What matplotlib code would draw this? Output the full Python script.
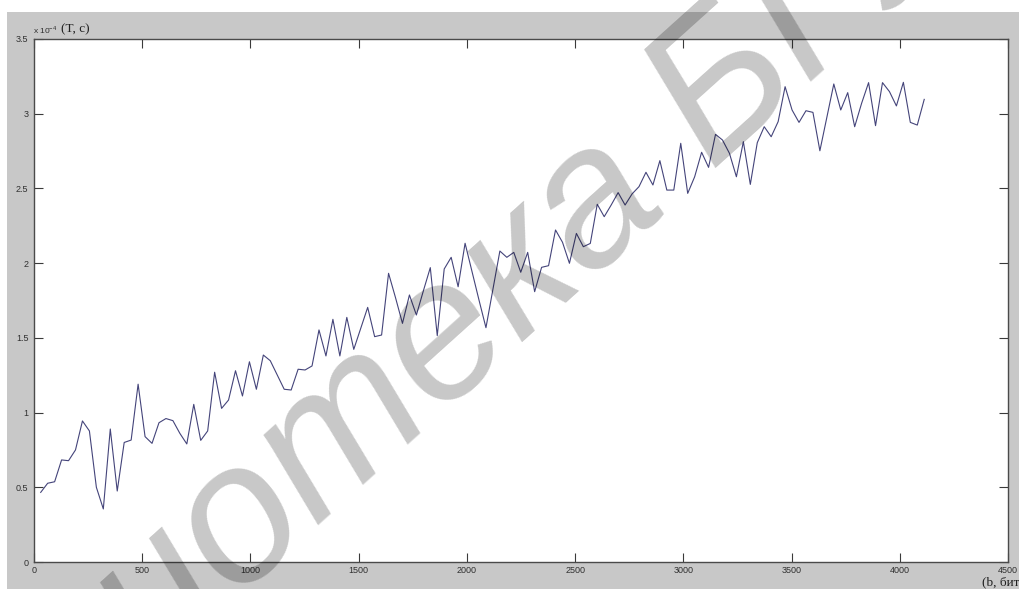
import numpy as np
import matplotlib
matplotlib.use("Agg")
import matplotlib.pyplot as plt
from matplotlib.patches import Rectangle

plt.rcParams["font.family"] = ["Liberation Sans", "DejaVu Sans"]
plt.rcParams["mathtext.fontset"] = "custom"
plt.rcParams["mathtext.rm"] = "Liberation Sans"

# block size, bits (128 measurements)
b_bits = np.linspace(31, 4113, 128)

# processing time, units of 1e-4 s
t_e4 = [
    0.466, 0.527, 0.537, 0.683, 0.678, 0.750, 0.944, 0.877, 0.500, 0.355,
    0.890, 0.475, 0.800, 0.816, 1.190, 0.839, 0.794, 0.932, 0.960, 0.946,
    0.861, 0.790, 1.055, 0.814, 0.877, 1.270, 1.028, 1.084, 1.280, 1.111,
    1.340, 1.156, 1.385, 1.347, 1.251, 1.156, 1.151, 1.290, 1.285, 1.312,
    1.553, 1.379, 1.624, 1.379, 1.637, 1.423, 1.564, 1.704, 1.508, 1.519,
    1.932, 1.769, 1.597, 1.787, 1.653, 1.814, 1.970, 1.515, 1.961, 2.039,
    1.842, 2.133, 1.943, 1.753, 1.568, 1.825, 2.081, 2.039, 2.072, 1.939,
    2.072, 1.809, 1.972, 1.983, 2.222, 2.140, 1.999, 2.199, 2.110, 2.132,
    2.394, 2.311, 2.389, 2.472, 2.389, 2.463, 2.512, 2.608, 2.523, 2.686,
    2.489, 2.489, 2.802, 2.467, 2.578, 2.742, 2.641, 2.862, 2.824, 2.735,
    2.578, 2.813, 2.527, 2.806, 2.913, 2.846, 2.947, 3.181, 3.025, 2.942,
    3.020, 3.009, 2.752, 2.976, 3.199, 3.025, 3.141, 2.913, 3.070, 3.208,
    2.920, 3.208, 3.148, 3.052, 3.210, 2.942, 2.924, 3.096,
]

x_ticks = [0, 500, 1000, 1500, 2000, 2500, 3000, 3500, 4000, 4500]
x_tick_labels = ["0", "500", "1000", "1500", "2000", "2500", "3000", "3500", "4000", "4500"]
y_ticks = [0, 0.5, 1, 1.5, 2, 2.5, 3, 3.5]
y_tick_labels = ["0", "0.5", "1", "1.5", "2", "2.5", "3", "3.5"]

W, H = 1019, 589
fig = plt.figure(figsize=(W / 100, H / 100), dpi=100, facecolor="white")

# grey figure window area
fig.patches.append(Rectangle((7 / W, 0), 1 - 7 / W, (H - 12) / H,
                             transform=fig.transFigure, facecolor="#c8c8c8",
                             edgecolor="none", zorder=-10))

ax = fig.add_axes([34 / W, 27 / H, 974 / W, 523 / H])
ax.set_facecolor("white")
ax.plot(b_bits, t_e4, color="#44447a", lw=0.8)

ax.set_xlim(0, 4500)
ax.set_ylim(0, 3.5)
ax.set_xticks(x_ticks)
ax.set_xticklabels(x_tick_labels)
ax.set_yticks(y_ticks)
ax.set_yticklabels(y_tick_labels)
ax.tick_params(direction="in", length=6.5, width=0.8, color="#3a3a3a",
               top=True, right=True, labelsize=6.5, labelcolor="#303030")
ax.tick_params(axis="x", pad=3)
ax.tick_params(axis="y", pad=4)
for sp in ax.spines.values():
    sp.set_color("#4a4a4a")
    sp.set_linewidth(1.0)

# axis annotations
fig.text(33 / W, 1 - 33 / H, r"x 10$^{-4}$", fontsize=6, color="#303030",
         ha="left", va="baseline")
fig.text(61 / W, 1 - 32 / H, "(T, c)", fontsize=9.5, color="#202020",
         family="Liberation Serif", ha="left", va="baseline")
fig.text(982 / W, 1 - 585 / H, "(b, бит)", fontsize=9.5, color="#202020",
         family="Liberation Serif", ha="left", va="baseline")

# library watermark
fig.text(465 / W, 1 - 325 / H, "Библиотека БГУИР", fontsize=142,
         rotation=42, rotation_mode="anchor", ha="center", va="center",
         color="black", alpha=0.22, style="italic",
         family=["Liberation Sans", "DejaVu Sans"], zorder=30)

fig.savefig("out.png", dpi=100, facecolor="white")
